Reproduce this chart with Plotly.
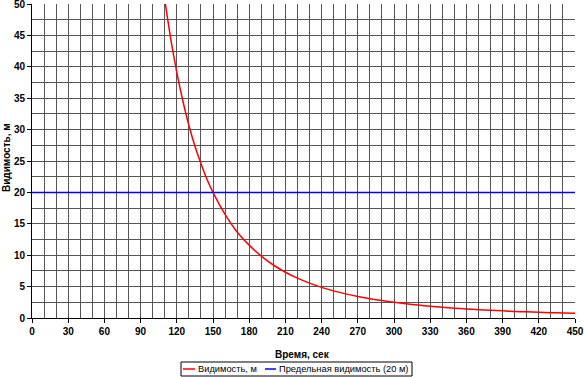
import plotly.graph_objects as go

# Data
time_s = [105, 108, 110, 115, 120, 125, 130, 135, 140, 145, 150, 160, 170, 180, 190, 200,
          210, 220, 230, 240, 250, 260, 270, 280, 290, 300, 310, 320, 330, 340,
          350, 360, 370, 380, 390, 400, 410, 420, 430, 440, 450]
visibility_m = [58.3, 53.6, 50.7, 44.4, 39.1, 34.6, 30.7, 27.4, 24.6, 22.1, 20.0, 16.5, 13.7, 11.6,
                9.84, 8.44, 7.29, 6.34, 5.55, 4.88, 4.32, 3.84, 3.43, 3.07, 2.77, 2.5,
                2.27, 2.06, 1.88, 1.72, 1.57, 1.45, 1.33, 1.23, 1.14, 1.05, 0.98,
                0.91, 0.85, 0.80, 0.76]
limit_time = [0, 450]
limit_value = [20, 20]

series_names = ["Видимость, м", "Предельная видимость (20 м)"]
series_colors = ["#FF0000", "#0000FF"]
x_title = "Время, сек"
y_title = "Видимость, м"

FONT = "Liberation Sans, Arial, sans-serif"
GRID = "#555555"

# plot-area geometry in pixels (for converting legend placement)
W, H = 584, 377
ML, MR, MT, MB = 32, 9, 4, 59
PW, PH = W - ML - MR, H - MT - MB


def px_x(px):
    return (px - ML) / PW


def px_y(py):
    return (H - MB - py) / PH


fig = go.Figure()
fig.add_trace(go.Scatter(x=time_s, y=visibility_m, mode="lines", name=series_names[0],
                         showlegend=False,
                         line=dict(color=series_colors[0], width=1.5, shape="spline", smoothing=0.6)))
fig.add_trace(go.Scatter(x=limit_time, y=limit_value, mode="lines", name=series_names[1],
                         showlegend=False,
                         line=dict(color=series_colors[1], width=1.5)))

# Custom compact legend (box, short line keys, labels)
shapes = [
    dict(type="rect", xref="paper", yref="paper",
         x0=px_x(181), x1=px_x(412), y0=px_y(376), y1=px_y(362),
         line=dict(color="#000000", width=1), fillcolor="white", layer="above"),
    dict(type="line", xref="paper", yref="paper",
         x0=px_x(183), x1=px_x(195), y0=px_y(369), y1=px_y(369),
         line=dict(color=series_colors[0], width=1.5), layer="above"),
    dict(type="line", xref="paper", yref="paper",
         x0=px_x(265), x1=px_x(276), y0=px_y(369), y1=px_y(369),
         line=dict(color=series_colors[1], width=1.5), layer="above"),
]

annotations = [
    dict(text="<b>" + x_title + "</b>", xref="paper", yref="paper",
         x=px_x(302), y=px_y(354), xanchor="center", yanchor="middle",
         showarrow=False, font=dict(size=10, family=FONT)),
    dict(text="<b>" + y_title + "</b>", xref="paper", yref="paper",
         x=px_x(6), y=px_y(158), xanchor="center", yanchor="middle", textangle=-90,
         showarrow=False, font=dict(size=10, family=FONT)),
    dict(text=series_names[0], xref="paper", yref="paper",
         x=px_x(196), y=px_y(369), xanchor="left", yanchor="middle",
         showarrow=False, font=dict(size=9.3, family=FONT)),
    dict(text=series_names[1], xref="paper", yref="paper",
         x=px_x(277), y=px_y(369), xanchor="left", yanchor="middle",
         showarrow=False, font=dict(size=9.3, family=FONT)),
]

fig.update_layout(
    width=W, height=H,
    margin=dict(l=ML, r=MR, t=MT, b=MB, autoexpand=False),
    paper_bgcolor="white", plot_bgcolor="white",
    font=dict(family=FONT, size=10, color="black"),
    showlegend=False,
    shapes=shapes,
    annotations=annotations,
)

fig.update_xaxes(
    range=[0, 450], dtick=30, tick0=0, automargin=False,
    showgrid=True, gridcolor=GRID, gridwidth=1,
    minor=dict(dtick=10, tick0=0, showgrid=True, gridcolor=GRID, gridwidth=1),
    ticks="outside", ticklen=4, tickcolor="black",
    showline=True, linecolor="black", linewidth=1, mirror=False,
    zeroline=False, ticklabeloverflow="allow",
    tickfont=dict(size=10, family=FONT, weight="bold"),
)
fig.update_yaxes(
    range=[0, 50], dtick=5, tick0=0, automargin=False,
    showgrid=True, gridcolor=GRID, gridwidth=1,
    minor=dict(dtick=2.5, tick0=0, showgrid=True, gridcolor=GRID, gridwidth=1),
    ticks="outside", ticklen=4, tickcolor="black",
    showline=True, linecolor="black", linewidth=1, mirror=False,
    zeroline=False, ticklabeloverflow="allow",
    tickfont=dict(size=10, family=FONT, weight="bold"),
)

fig.write_html(
    "out.html",
    config={"displayModeBar": False},
    post_script="document.body.style.margin='0px';document.body.style.overflow='hidden';",
)
